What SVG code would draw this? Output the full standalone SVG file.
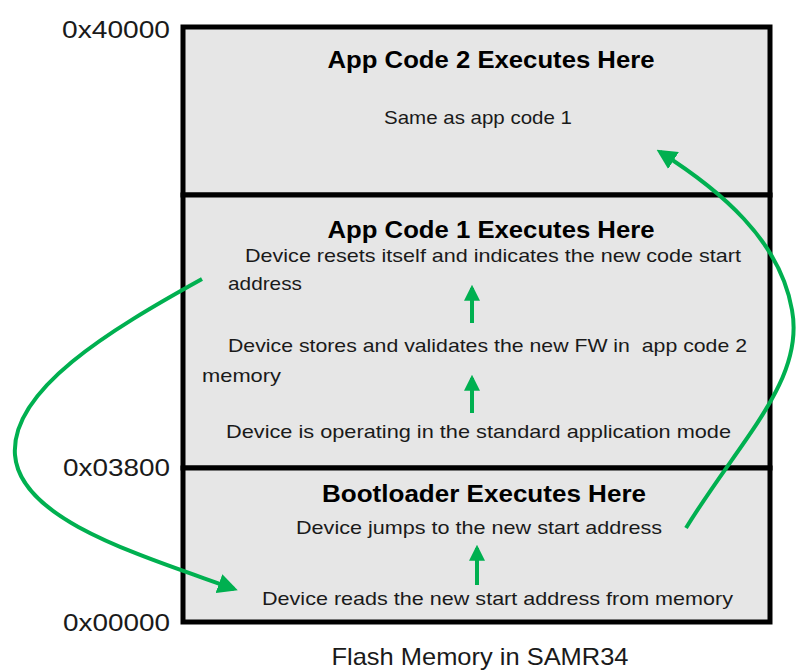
<svg xmlns="http://www.w3.org/2000/svg" width="796" height="671" viewBox="0 0 796 671">
<defs>
<style>
.t{font-family:"Liberation Sans","Noto Sans",sans-serif;font-size:19px;fill:#1a1a1a}
.h{font-family:"Liberation Sans","Noto Sans",sans-serif;font-size:23px;font-weight:bold;fill:#000}
.a{font-family:"Liberation Sans","Noto Sans",sans-serif;font-size:24px;fill:#1a1a1a}
.box{fill:#e6e6e6;stroke:#000;stroke-width:5}
.g{fill:none;stroke:#00b050;stroke-width:4}
.gs{fill:none;stroke:#00b050;stroke-width:4}
</style>
<marker id="ah" viewBox="0 0 10 10" refX="8" refY="5" markerWidth="5" markerHeight="5" orient="auto" markerUnits="strokeWidth">
<path d="M0,0 L10,5 L0,10 z" fill="#00b050"/>
</marker>
<marker id="as" viewBox="0 0 10 10" refX="8" refY="5" markerWidth="4" markerHeight="4.5" orient="auto" markerUnits="strokeWidth">
<path d="M0,0 L10,5 L0,10 z" fill="#00b050"/>
</marker>
</defs>
<g id="app2">
<rect class="box" x="183" y="27" width="587" height="168"/>
<text class="h" x="491" y="68" text-anchor="middle" textLength="327" lengthAdjust="spacingAndGlyphs">App Code 2 Executes Here</text>
<text class="t" x="478" y="124" text-anchor="middle" textLength="188" lengthAdjust="spacingAndGlyphs">Same as app code 1</text>
</g>
<g id="app1">
<rect class="box" x="183" y="195" width="587" height="273"/>
<text class="h" x="491" y="238" text-anchor="middle" textLength="327" lengthAdjust="spacingAndGlyphs">App Code 1 Executes Here</text>
<text class="t" x="245" y="262" textLength="496" lengthAdjust="spacingAndGlyphs">Device resets itself and indicates the new code start</text>
<text class="t" x="228" y="290" textLength="74" lengthAdjust="spacingAndGlyphs">address</text>
<text class="t" x="228" y="352" textLength="519" lengthAdjust="spacingAndGlyphs" xml:space="preserve" style="white-space:pre">Device stores and validates the new FW in  app code 2</text>
<text class="t" x="202" y="382" textLength="79" lengthAdjust="spacingAndGlyphs">memory</text>
<text class="t" x="226" y="438" textLength="505" lengthAdjust="spacingAndGlyphs">Device is operating in the standard application mode</text>
</g>
<g id="bootloader">
<rect class="box" x="183" y="468" width="587" height="154"/>
<text class="h" x="484" y="502" text-anchor="middle" textLength="324" lengthAdjust="spacingAndGlyphs">Bootloader Executes Here</text>
<text class="t" x="296" y="534" textLength="366" lengthAdjust="spacingAndGlyphs">Device jumps to the new start address</text>
<text class="t" x="262" y="605" textLength="471" lengthAdjust="spacingAndGlyphs">Device reads the new start address from memory</text>
</g>
<g id="labels">
<text class="a" x="170" y="38" text-anchor="end" textLength="108" lengthAdjust="spacingAndGlyphs">0x40000</text>
<text class="a" x="170" y="476" text-anchor="end" textLength="107" lengthAdjust="spacingAndGlyphs">0x03800</text>
<text class="a" x="170" y="631" text-anchor="end" textLength="107" lengthAdjust="spacingAndGlyphs">0x00000</text>
<text class="a" x="480" y="665" text-anchor="middle" textLength="297" lengthAdjust="spacingAndGlyphs">Flash Memory in SAMR34</text>
</g>
<g id="connectors">
<line class="gs" x1="472" y1="323" x2="472" y2="288" marker-end="url(#as)"/>
<line class="gs" x1="472" y1="413" x2="472" y2="378" marker-end="url(#as)"/>
<line class="gs" x1="477" y1="585" x2="477" y2="548" marker-end="url(#as)"/>
<path class="g" d="M202 279 C110 330 10 390 15 455 C20 520 140 555 234 589" marker-end="url(#ah)"/>
<path class="g" d="M686 528 C740 440 805 380 792 310 C780 240 720 190 660 152" marker-end="url(#ah)"/>
</g>
</svg>
